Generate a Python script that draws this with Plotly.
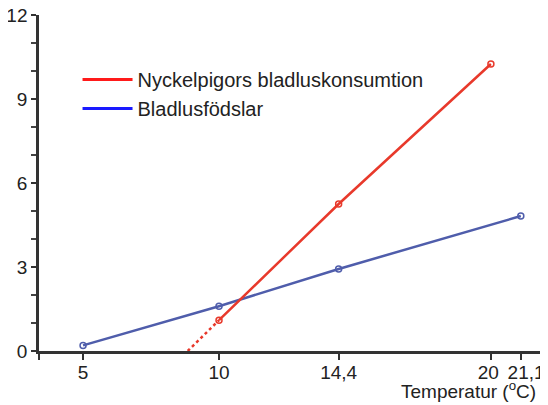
import plotly.graph_objects as go

# Data
temp_red = [10, 14.4, 20]
consumption = [1.1, 5.25, 10.25]
temp_red_ext = [8.85, 10]
consumption_ext = [0, 1.1]
temp_blue = [5, 10, 14.4, 21.1]
births = [0.2, 1.6, 2.93, 4.82]
x_ticks = [3.38, 5, 10, 14.4, 20, 21.1]
x_ticklabels = ["", "5", "10", "14,4", "20\u00a0", "\u00a0\u00a021,1"]
y_ticks = [0, 3, 6, 9, 12]

RED = "#e8392b"
BLUE = "#4f5dab"
FONT = "Liberation Sans, Arial, sans-serif"

fig = go.Figure()
fig.add_trace(go.Scatter(x=temp_red_ext, y=consumption_ext, mode="lines",
                         line=dict(color=RED, width=2.5, dash="dot"),
                         showlegend=False, hoverinfo="skip"))
fig.add_trace(go.Scatter(x=temp_blue, y=births, mode="lines+markers",
                         line=dict(color=BLUE, width=2.5),
                         marker=dict(symbol="circle-open", size=6, color=BLUE, line=dict(width=1.5)),
                         showlegend=False))
fig.add_trace(go.Scatter(x=temp_red, y=consumption, mode="lines+markers",
                         line=dict(color=RED, width=2.5),
                         marker=dict(symbol="circle-open", size=6, color=RED, line=dict(width=1.5)),
                         showlegend=False))
# legend entries
fig.add_trace(go.Scatter(x=[None], y=[None], mode="lines", name="Nyckelpigors bladluskonsumtion",
                         line=dict(color="#ff1a1a", width=3)))
fig.add_trace(go.Scatter(x=[None], y=[None], mode="lines", name="Bladlusfödslar",
                         line=dict(color="#1a1aff", width=3)))

# The page body has an 8px margin, so the figure is sized to fit the 548x405 window.
fig.update_layout(
    width=540, height=397,
    margin=dict(l=31, r=0, t=7, b=54),
    paper_bgcolor="white", plot_bgcolor="white",
    font=dict(family=FONT, size=18, color="#222222"),
    showlegend=True,
    legend=dict(x=0.0757, y=0.866, xanchor="left", yanchor="top",
                font=dict(size=20, color="#222222"), itemwidth=50,
                bgcolor="rgba(0,0,0,0)", tracegroupgap=0),
    xaxis=dict(range=[3.38, 22.1], tickvals=x_ticks, ticktext=x_ticklabels, tickangle=0,
               automargin=False, ticklabelstandoff=-4, ticklabeloverflow="allow",
               showgrid=False, zeroline=False, showline=True, linecolor="#333333", linewidth=2.5,
               ticks="outside", ticklen=6, tickwidth=2, tickcolor="#333333",
               tickfont=dict(size=19, color="#222222")),
    yaxis=dict(range=[0, 12], tickmode="linear", tick0=y_ticks[0], dtick=y_ticks[1] - y_ticks[0],
               automargin=False, ticklabeloverflow="allow",
               showgrid=False, zeroline=False, showline=True, linecolor="#333333", linewidth=2.5,
               ticks="outside", ticklen=5, tickwidth=2, tickcolor="#333333",
               tickfont=dict(size=19, color="#222222"),
               minor=dict(dtick=1, ticks="outside", ticklen=5, tickwidth=2, tickcolor="#444444",
                          showgrid=False)),
)
fig.add_annotation(text="Temperatur (<sup>o</sup>C)", xref="paper", yref="paper",
                   x=0.98, y=-0.116, xanchor="right", yanchor="middle", showarrow=False,
                   font=dict(size=19, color="#222222"))

fig.write_html("out.html")
